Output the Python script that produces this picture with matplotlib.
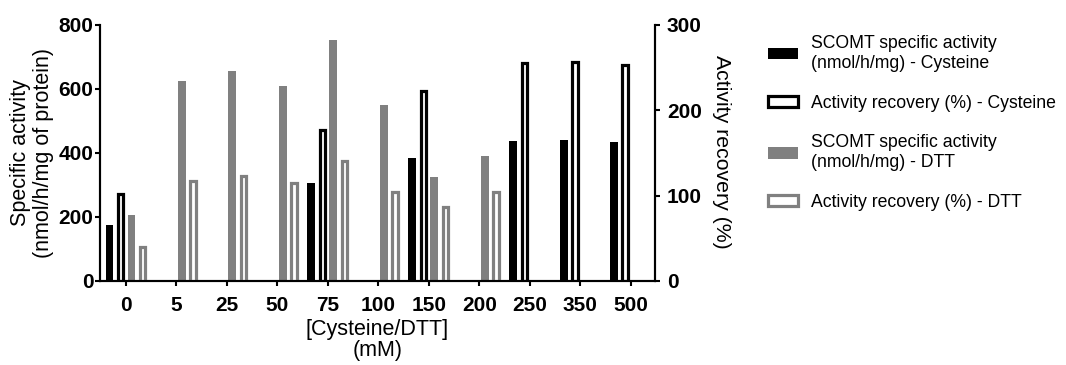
import numpy as np
import matplotlib.pyplot as plt

plt.rcParams['font.family'] = ['Liberation Sans', 'DejaVu Sans']

# Concentrations (mM) and values
conc = ['0', '5', '25', '50', '75', '100', '150', '200', '250', '350', '500']
cys_activity = [175, np.nan, np.nan, np.nan, 306, np.nan, 385, np.nan, 437, 440, 435]
cys_recovery = [102, np.nan, np.nan, np.nan, 177, np.nan, 223, np.nan, 256, 257, 253]
dtt_activity = [206, 625, 656, 610, 754, 550, 325, 392, np.nan, np.nan, np.nan]
dtt_recovery = [40, 117, 123, 115, 141, 104, 87, 104, np.nan, np.nan, np.nan]

labels = ['SCOMT specific activity\n(nmol/h/mg) - Cysteine',
          'Activity recovery (%) - Cysteine',
          'SCOMT specific activity\n(nmol/h/mg) - DTT',
          'Activity recovery (%) - DTT']

gray = '#808080'
x = np.arange(len(conc))
slot = 0.218
w_fill = 0.158
w_open = 0.11
lw_open = 2.3

fig = plt.figure(figsize=(10.66, 3.65), dpi=100)
ax = fig.add_axes([100 / 1066, 1 - 281 / 365, 555 / 1066, 256 / 365])
ax2 = ax.twinx()

b1 = ax.bar(x - 1.5 * slot, cys_activity, w_fill, color='black', linewidth=0)
b3 = ax.bar(x + 0.5 * slot, dtt_activity, w_fill, color=gray, linewidth=0)
b2 = ax2.bar(x - 0.5 * slot, cys_recovery, w_open, facecolor='white',
             edgecolor='black', linewidth=lw_open)
b4 = ax2.bar(x + 1.5 * slot, dtt_recovery, w_open, facecolor='white',
             edgecolor=gray, linewidth=lw_open)

ax.set_xlim(-0.515, 10.48)
ax.set_ylim(0, 800)
ax2.set_ylim(0, 300)
ax.set_yticks([0, 200, 400, 600, 800])
ax2.set_yticks([0, 100, 200, 300])
ax.set_xticks(x)
ax.set_xticklabels(conc)

for a in (ax, ax2):
    a.spines['top'].set_visible(False)
    for s in a.spines.values():
        s.set_linewidth(1.5)
    a.tick_params(width=1.5, length=3.6, labelsize=15)
    for t in a.get_xticklabels() + a.get_yticklabels():
        t.set_fontweight('bold')
ax.tick_params(axis='y', pad=1)
ax.tick_params(axis='x', pad=7)
ax2.tick_params(axis='y', pad=5)

fig.text(32 / 1066, 1 - 153 / 365, 'Specific activity\n(nmol/h/mg of protein)',
         rotation=90, ha='center', va='center', fontsize=15.5,
         multialignment='center', linespacing=1.1)
fig.text(722 / 1066, 1 - 152 / 365, 'Activity recovery (%)', rotation=270,
         ha='center', va='center', fontsize=15.3)
fig.text(377.5 / 1066, 1 - 340 / 365, '[Cysteine/DTT]\n(mM)', ha='center',
         va='center', fontsize=15.5, multialignment='center', linespacing=1.05)

fig.legend([b1, b2, b3, b4], labels, loc='upper left',
           bbox_to_anchor=(768 / 1066, 1 - 35 / 365), frameon=False,
           fontsize=12.7, handlelength=1.7, handleheight=0.62,
           handletextpad=0.75, labelspacing=1.3, borderpad=0,
           borderaxespad=0)

fig.savefig('out.png', dpi=100)
